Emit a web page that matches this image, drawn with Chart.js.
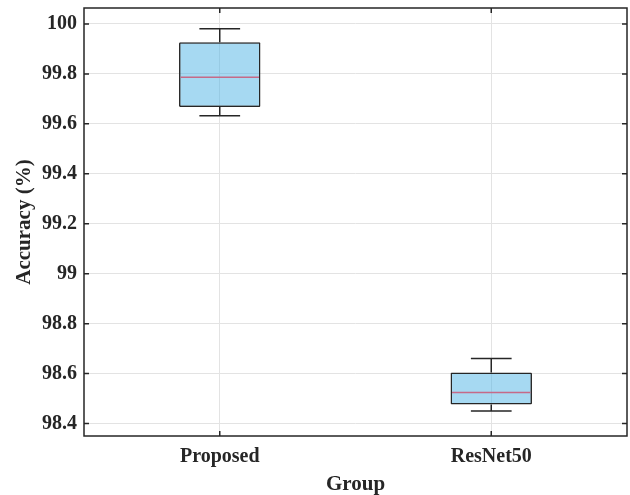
<!DOCTYPE html>
<html>
<head>
<meta charset="utf-8">
<script src="https://cdn.jsdelivr.net/npm/chart.js@4.4.1/dist/chart.umd.min.js"></script>
<style>
  html, body { margin: 0; padding: 0; background: #fff; }
  #wrap { width: 630px; height: 495px; }
</style>
</head>
<body>
<div id="wrap"><canvas id="boxChart" width="630" height="495"></canvas></div>
<script>
// box plot stats
const groups = ['Proposed', 'ResNet50'];
const whiskerMin = [99.632, 98.450];
const q1 = [99.668, 98.476];
const median = [99.787, 98.524];
const q3 = [99.927, 98.604];
const whiskerMax = [99.981, 98.660];
const yTicks = [98.4, 98.6, 98.8, 99, 99.2, 99.4, 99.6, 99.8, 100];

const ink = '#262626';
const serif = "'Liberation Serif', 'Times New Roman', serif";

// whiskers, caps and median line, drawn from the stats through the scales
const boxExtras = {
  id: 'boxExtras',
  afterDatasetsDraw(chart) {
    const ctx = chart.ctx;
    const x = chart.scales.x, y = chart.scales.y;
    const meta = chart.getDatasetMeta(0);
    ctx.save();
    groups.forEach(function(g, i) {
      const cx = x.getPixelForValue(i);
      const w = meta.data[i].width;
      const cap = w * 0.25;
      ctx.strokeStyle = ink;
      ctx.lineWidth = 1.5;
      ctx.beginPath();
      ctx.moveTo(cx, y.getPixelForValue(q3[i]));
      ctx.lineTo(cx, y.getPixelForValue(whiskerMax[i]));
      ctx.moveTo(cx - cap, y.getPixelForValue(whiskerMax[i]));
      ctx.lineTo(cx + cap, y.getPixelForValue(whiskerMax[i]));
      ctx.moveTo(cx, y.getPixelForValue(q1[i]));
      ctx.lineTo(cx, y.getPixelForValue(whiskerMin[i]));
      ctx.moveTo(cx - cap, y.getPixelForValue(whiskerMin[i]));
      ctx.lineTo(cx + cap, y.getPixelForValue(whiskerMin[i]));
      ctx.stroke();
      // median
      ctx.strokeStyle = '#c66a88';
      ctx.lineWidth = 1.5;
      ctx.beginPath();
      ctx.moveTo(cx - w / 2 + 1.5, y.getPixelForValue(median[i]));
      ctx.lineTo(cx + w / 2 - 1.5, y.getPixelForValue(median[i]));
      ctx.stroke();
    });
    ctx.restore();
  }
};

// axes box with inward ticks like the original figure
const axesFrame = {
  id: 'axesFrame',
  afterDraw(chart) {
    const ctx = chart.ctx;
    const a = chart.chartArea;
    const x = chart.scales.x, y = chart.scales.y;
    const tl = 5;
    ctx.save();
    ctx.strokeStyle = ink;
    ctx.lineWidth = 1.5;
    ctx.strokeRect(a.left, a.top, a.right - a.left, a.bottom - a.top);
    ctx.beginPath();
    yTicks.forEach(function(v) {
      const py = y.getPixelForValue(v);
      ctx.moveTo(a.left, py); ctx.lineTo(a.left + tl, py);
      ctx.moveTo(a.right, py); ctx.lineTo(a.right - tl, py);
    });
    groups.forEach(function(g, i) {
      const px = x.getPixelForValue(i);
      ctx.moveTo(px, a.bottom); ctx.lineTo(px, a.bottom - tl);
      ctx.moveTo(px, a.top); ctx.lineTo(px, a.top + tl);
    });
    ctx.stroke();
    ctx.restore();
  }
};

new Chart(document.getElementById('boxChart'), {
  type: 'bar',
  data: {
    labels: groups,
    datasets: [{
      label: 'IQR',
      data: groups.map(function(g, i) { return [q1[i], q3[i]]; }),
      backgroundColor: 'rgba(77, 180, 230, 0.5)',
      borderColor: ink,
      borderWidth: 1.5,
      borderSkipped: false,
      borderRadius: 1,
      categoryPercentage: 1,
      barPercentage: 0.3
    }]
  },
  options: {
    responsive: false,
    animation: false,
    layout: { padding: { top: 8, right: 3, bottom: 0, left: 0 } },
    plugins: {
      legend: { display: false },
      tooltip: { enabled: false }
    },
    scales: {
      x: {
        grid: { offset: false, color: '#e3e3e3', lineWidth: 1, drawTicks: false },
        border: { display: false },
        ticks: {
          padding: 9,
          color: ink,
          font: { family: serif, size: 20, weight: 'bold' }
        },
        title: {
          display: true,
          text: 'Group',
          color: ink,
          padding: { top: 0, bottom: 0 },
          font: { family: serif, size: 21, weight: 'bold', lineHeight: 1 }
        },
        afterFit: function(scale) {
          scale.height = 59;
          scale.paddingLeft = 0;
          scale.paddingRight = 0;
        }
      },
      y: {
        min: 98.35,
        max: 100.064,
        grid: { color: '#e3e3e3', lineWidth: 1, drawTicks: false },
        border: { display: false },
        afterBuildTicks: function(scale) {
          scale.ticks = yTicks.map(function(v) { return { value: v }; });
        },
        ticks: {
          padding: 7,
          color: ink,
          font: { family: serif, size: 20, weight: 'bold' },
          callback: function(v) { return String(v); }
        },
        title: {
          display: true,
          text: 'Accuracy (%)',
          color: ink,
          padding: { top: 12, bottom: 0 },
          font: { family: serif, size: 21, weight: 'bold' }
        },
        afterFit: function(scale) {
          scale.width = 84;
          scale.paddingTop = 0;
          scale.paddingBottom = 0;
        }
      }
    }
  },
  plugins: [boxExtras, axesFrame]
});
</script>
</body>
</html>
